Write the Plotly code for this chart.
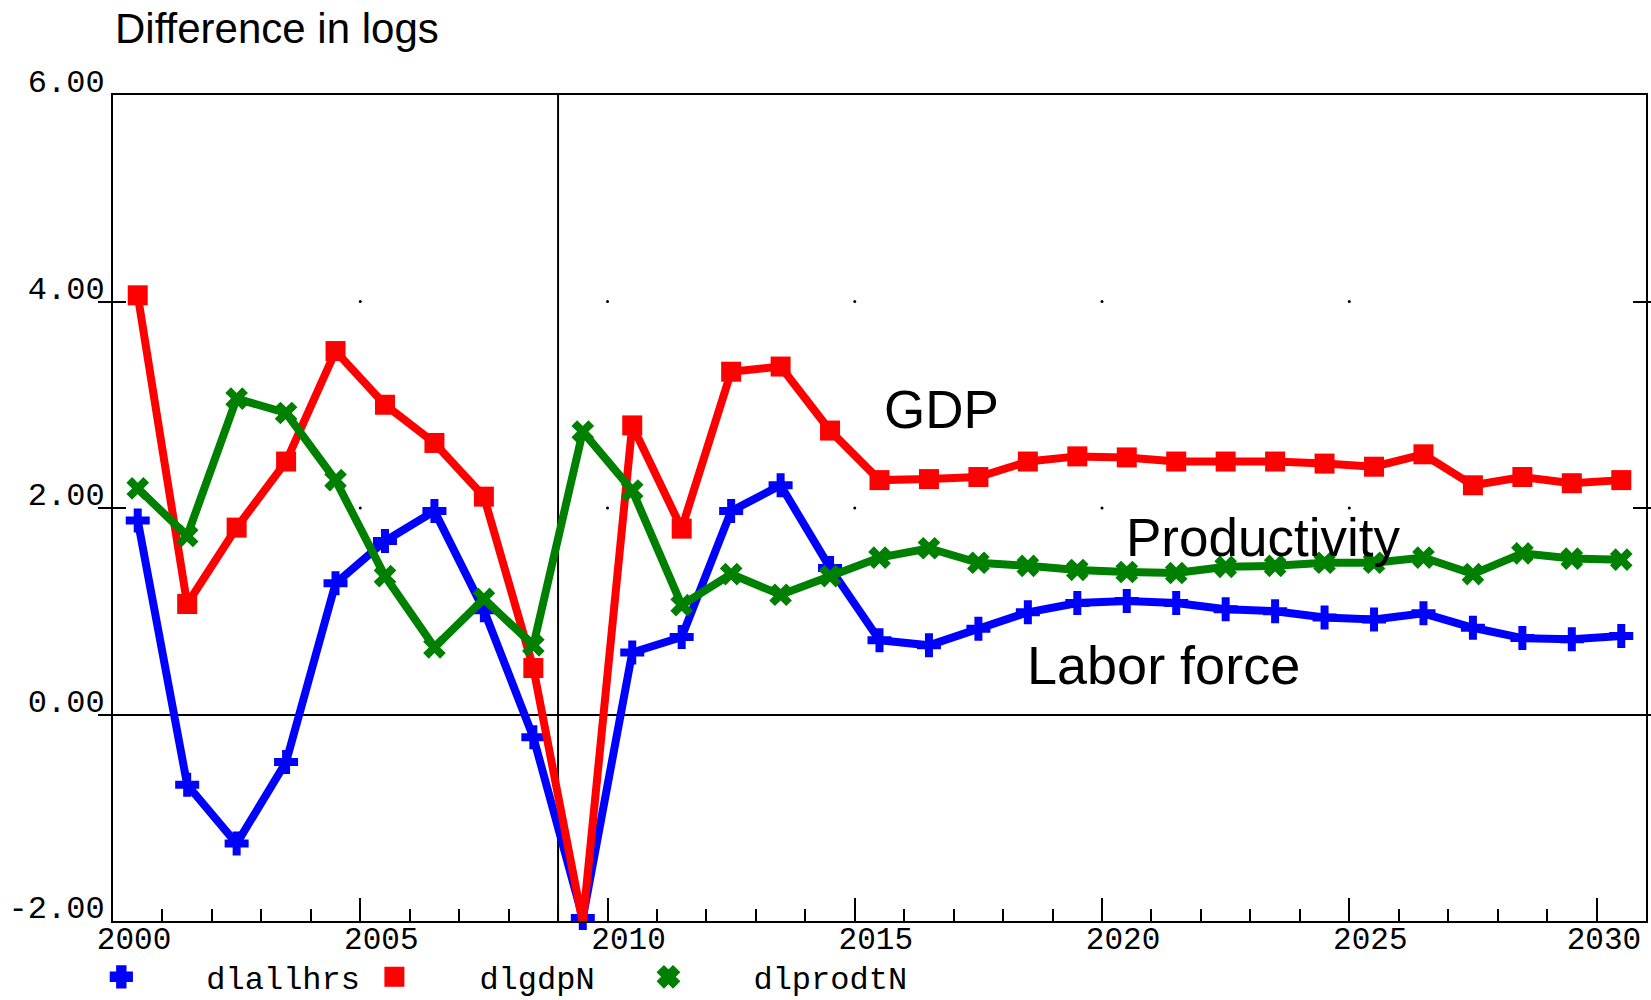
import plotly.graph_objects as go

# ---------------- data ----------------
years = list(range(2000, 2031))

dlallhrs = [1.88, -0.68, -1.25, -0.46, 1.27, 1.68, 1.97, 1.01, -0.22, -1.97,
            0.60, 0.75, 1.97, 2.22, 1.42, 0.72, 0.67, 0.83, 0.99, 1.08,
            1.10, 1.08, 1.02, 1.00, 0.94, 0.92, 0.98, 0.84, 0.74, 0.73, 0.76]

dlgdpN = [4.06, 1.07, 1.81, 2.45, 3.52, 3.00, 2.63, 2.11, 0.45, -2.02,
          2.80, 1.80, 3.32, 3.37, 2.75, 2.27, 2.28, 2.30, 2.45, 2.50,
          2.49, 2.45, 2.45, 2.45, 2.43, 2.40, 2.52, 2.22, 2.30, 2.24, 2.27]

dlprodtN = [2.19, 1.73, 3.06, 2.92, 2.27, 1.34, 0.65, 1.12, 0.67, 2.74,
            2.17, 1.06, 1.36, 1.16, 1.34, 1.52, 1.61, 1.47, 1.44, 1.40,
            1.38, 1.37, 1.43, 1.44, 1.47, 1.47, 1.52, 1.36, 1.56, 1.51, 1.50]

series_names = ["dlallhrs", "dlgdpN", "dlprodtN"]
series_values = [dlallhrs, dlgdpN, dlprodtN]
series_colors = ["#0000ff", "#ff0000", "#008000"]
series_symbols = ["cross", "square", "x"]

x_tick_years = [2000, 2005, 2010, 2015, 2020, 2025, 2030]
x_tick_labels = ["2000", "2005", "2010", "2015", "2020", "2025", "2030"]
y_tick_values = [-2, 0, 2, 4, 6]
y_tick_labels = ["-2.00", "0.00", "2.00", "4.00", "6.00"]
grid_dot_years = [2005, 2010, 2015, 2020, 2025]
grid_dot_levels = [2, 4]
forecast_start = 2009

X_MIN, X_MAX = 2000, 2031
LABEL_SHIFT = 0.425      # labels drawn a little right of their tick
LABEL_HALF = 0.85        # half label width (years), keeps last label inside frame

MONO = "Liberation Mono, Courier New, monospace"
SANS = "Liberation Sans, Arial, sans-serif"

# annual observations plotted at mid-year
x_mid = [y + 0.5 for y in years]
label_pos = [min(y + LABEL_SHIFT, X_MAX - LABEL_HALF) for y in x_tick_years]

fig = go.Figure()

# dotted grid marks at major tick intersections
fig.add_trace(go.Scatter(
    x=[gx for gy in grid_dot_levels for gx in grid_dot_years],
    y=[gy for gy in grid_dot_levels for gx in grid_dot_years],
    mode="markers", marker=dict(size=3, color="black"),
    showlegend=False, hoverinfo="skip"))

for name, vals, col, sym in zip(series_names, series_values, series_colors, series_symbols):
    fig.add_trace(go.Scatter(
        x=x_mid, y=vals, mode="lines+markers", name=name,
        line=dict(color=col, width=8),
        marker=dict(symbol=sym, size=20, color=col),
        cliponaxis=False, showlegend=False))

# legend entries (markers only), one legend box per series
legend_ids = ["legend", "legend2", "legend3"]
for name, col, sym, lg in zip(series_names, series_colors, series_symbols, legend_ids):
    fig.add_trace(go.Scatter(
        x=[None], y=[None], mode="markers", name=name, legend=lg,
        marker=dict(symbol=sym, size=16, color=col, line=dict(color=col, width=4)),
        showlegend=True))

fig.add_shape(type="line", xref="x", yref="paper",
              x0=forecast_start, x1=forecast_start, y0=0, y1=1,
              line=dict(color="black", width=2), layer="below")

fig.add_annotation(text="GDP", x=2016.76, y=2.95, xref="x", yref="y",
                   showarrow=False, font=dict(family=SANS, size=53, color="black"))
fig.add_annotation(text="Productivity", x=2023.26, y=1.71, xref="x", yref="y",
                   showarrow=False, font=dict(family=SANS, size=53, color="black"))
fig.add_annotation(text="Labor force", x=2021.24, y=0.475, xref="x", yref="y",
                   showarrow=False, font=dict(family=SANS, size=54, color="black"))
fig.add_annotation(text="Difference in logs", x=0, y=1.08, xref="paper", yref="paper",
                   xanchor="left", yanchor="middle", showarrow=False,
                   font=dict(family=SANS, size=42, color="black"))

legend_common = dict(orientation="h", xref="container", yref="container",
                     xanchor="left", y=0.023, yanchor="middle",
                     font=dict(family=MONO, size=32, color="black"),
                     itemwidth=160, bgcolor="rgba(0,0,0,0)")

fig.update_layout(
    width=1651, height=1000,
    margin=dict(l=113, r=5, t=95, b=79, autoexpand=False),
    paper_bgcolor="white", plot_bgcolor="white",
    showlegend=True,
    legend=dict(x=0.022, **legend_common),
    legend2=dict(x=0.1874, **legend_common),
    legend3=dict(x=0.3534, **legend_common),
    xaxis=dict(range=[X_MIN, X_MAX], showline=True, linecolor="black", linewidth=2,
               mirror=True, ticks="inside", ticklen=23, tickwidth=1.5, tickcolor="black",
               tickmode="array", tickvals=x_tick_years, showticklabels=False,
               minor=dict(dtick=1, tick0=2000, ticks="inside", ticklen=12,
                          tickwidth=1.5, tickcolor="black", showgrid=False),
               showgrid=False, zeroline=False),
    xaxis2=dict(range=[X_MIN, X_MAX], overlaying="x", anchor="y", side="bottom",
                showline=False, ticks="", showgrid=False, zeroline=False,
                tickmode="array", tickvals=label_pos, ticktext=x_tick_labels,
                ticklabelstandoff=-4,
                tickfont=dict(family=MONO, size=31, color="black")),
    yaxis=dict(range=[-2, 6], showline=True, linecolor="black", linewidth=2,
               mirror="allticks", ticks="inside", ticklen=13, tickwidth=1.5,
               tickcolor="black", tickmode="array", tickvals=y_tick_values,
               ticktext=y_tick_labels, ticklabelshift=-14, ticklabelstandoff=0,
               ticklabeloverflow="allow",
               zeroline=True, zerolinecolor="black", zerolinewidth=1.5,
               showgrid=False,
               tickfont=dict(family=MONO, size=32, color="black")),
)

# invisible anchor so the label axis is drawn
fig.add_trace(go.Scatter(x=[X_MIN], y=[None], xaxis="x2", yaxis="y",
                         mode="markers", showlegend=False, hoverinfo="skip"))

fig.write_html("out.html", config={"displayModeBar": False},
               post_script="document.body.style.margin='0';")
